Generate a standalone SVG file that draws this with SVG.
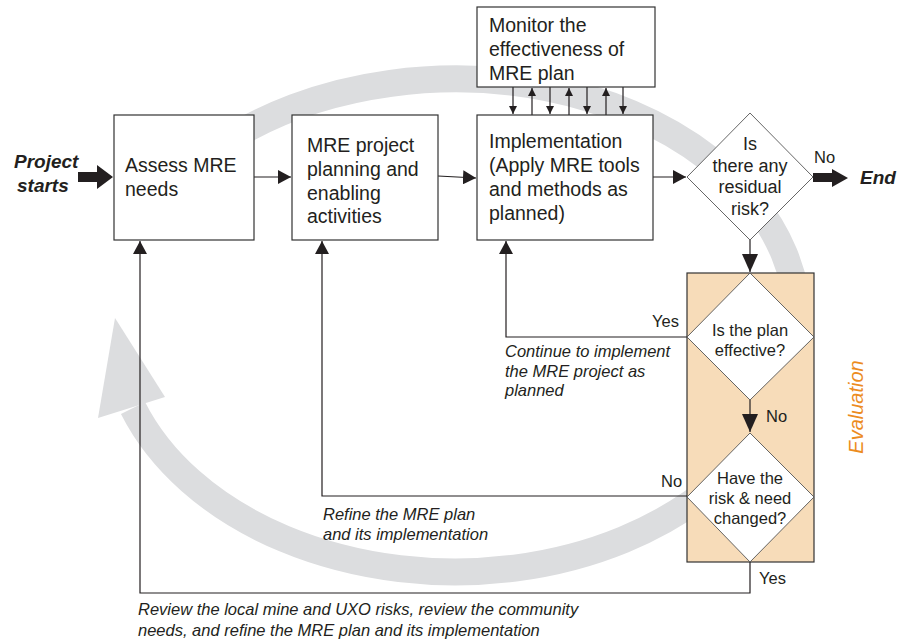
<svg xmlns="http://www.w3.org/2000/svg" width="900" height="644" viewBox="0 0 900 644">
<defs>
<style>
.box{fill:#fff;stroke:#333;stroke-width:1.2}
.dia{fill:#fff;stroke:#555;stroke-width:0.9}
.t{font-family:"Liberation Sans",Arial,sans-serif;font-size:19.5px;fill:#231f20}
.td{font-family:"Liberation Sans",Arial,sans-serif;font-size:16.5px;fill:#231f20;text-anchor:middle}
.tl{font-family:"Liberation Sans",Arial,sans-serif;font-size:16.5px;fill:#231f20}
.ti{font-family:"Liberation Sans",Arial,sans-serif;font-size:16.5px;font-style:italic;fill:#231f20}
.tb{font-family:"Liberation Sans",Arial,sans-serif;font-size:19px;font-style:italic;font-weight:bold;fill:#231f20}
.ln{fill:none;stroke:#231f20;stroke-width:1.2}
.thick{fill:#231f20}
</style>
<marker id="ah" markerUnits="userSpaceOnUse" markerWidth="14" markerHeight="14" refX="13" refY="7" orient="auto" viewBox="0 0 14 14"><path d="M0,0 L13,7 L0,14 z" fill="#231f20"/></marker>
<marker id="as" markerUnits="userSpaceOnUse" markerWidth="9" markerHeight="9" refX="8" refY="4" orient="auto" viewBox="0 0 9 9"><path d="M0,0 L8,4 L0,8 z" fill="#231f20"/></marker>
<marker id="ab" markerUnits="userSpaceOnUse" markerWidth="19" markerHeight="17" refX="18" refY="8" orient="auto" viewBox="0 0 19 17"><path d="M0,0 L18,8 L0,16 z" fill="#231f20"/></marker>
</defs>
<rect width="900" height="644" fill="#fff"/>

<g id="cycle-band">
<path d="M215,148.4 A343,243 0 0 1 798,322 A343,250 0 0 1 133,408" fill="none" stroke="#dcdddf" stroke-width="27"/>
<polygon points="115,318 165,397 98,418" fill="#dcdddf"/>
</g>

<g id="evaluation">
<rect x="687" y="273" width="127" height="289" fill="#f7dcb9" stroke="#333" stroke-width="1.2"/>
<text x="863" y="407" transform="rotate(-90 863 407)" text-anchor="middle" style="font-family:'Liberation Sans',Arial,sans-serif;font-size:20px;font-style:italic;fill:#ec8c1e">Evaluation</text>
</g>

<g id="connectors">
<path class="ln" d="M254,177 H291" marker-end="url(#ah)"/>
<path class="ln" d="M438,176 L476,178" marker-end="url(#ah)"/>
<path class="ln" d="M653,177 H686" marker-end="url(#ah)"/>
<path class="ln" d="M750,240 V272" marker-end="url(#ab)"/>
<path class="ln" d="M750,400 V432" marker-end="url(#ab)"/>
<path class="ln" d="M687,337 H506 V241" marker-end="url(#ah)"/>
<path class="ln" d="M687,496 H322 V241" marker-end="url(#ah)"/>
<path class="ln" d="M750,562 V593 H140 V241" marker-end="url(#ah)"/>
<path class="ln" d="M513,87 V114" marker-end="url(#as)"/>
<path class="ln" d="M532,115 V88" marker-end="url(#as)"/>
<path class="ln" d="M550,87 V114" marker-end="url(#as)"/>
<path class="ln" d="M569,115 V88" marker-end="url(#as)"/>
<path class="ln" d="M587,87 V114" marker-end="url(#as)"/>
<path class="ln" d="M606,115 V88" marker-end="url(#as)"/>
<path class="ln" d="M623,87 V114" marker-end="url(#as)"/>
<polygon class="thick" points="78,172 97,172 97,165 113,177 97,189 97,182 78,182"/>
<polygon class="thick" points="813,173 832,173 832,169 848,178 832,187 832,182 813,182"/>
</g>

<g id="start">
<text class="tb" x="14" y="168">Project</text>
<text class="tb" x="17" y="192">starts</text>
</g>

<g id="assess">
<rect class="box" x="114" y="115" width="140" height="125"/>
<text class="t" x="125" y="172">Assess MRE</text>
<text class="t" x="125" y="196">needs</text>
</g>

<g id="planning">
<rect class="box" x="292" y="115" width="146" height="125"/>
<text class="t" x="307" y="152">MRE project</text>
<text class="t" x="307" y="176">planning and</text>
<text class="t" x="307" y="200">enabling</text>
<text class="t" x="307" y="223">activities</text>
</g>

<g id="implementation">
<rect class="box" x="477" y="115" width="176" height="125"/>
<text class="t" x="489" y="148">Implementation</text>
<text class="t" x="489" y="172">(Apply MRE tools</text>
<text class="t" x="489" y="196">and methods as</text>
<text class="t" x="489" y="220">planned)</text>
</g>

<g id="monitor">
<rect class="box" x="477" y="7" width="178" height="80"/>
<text class="t" x="489" y="32">Monitor the</text>
<text class="t" x="489" y="56">effectiveness of</text>
<text class="t" x="489" y="80">MRE plan</text>
</g>

<g id="residual">
<polygon class="dia" points="750,113 813,177 750,240 687,177"/>
<text class="td" style="font-size:18px" x="750" y="150">Is</text>
<text class="td" style="font-size:18px" x="750" y="172">there any</text>
<text class="td" style="font-size:18px" x="750" y="193">residual</text>
<text class="td" style="font-size:18px" x="750" y="215">risk?</text>
<text class="tl" x="814" y="163">No</text>
</g>

<g id="end">
<text class="tb" x="860" y="184">End</text>
</g>

<g id="effective">
<polygon class="dia" points="750,273 814,337 750,400 687,337"/>
<text class="td" x="750" y="336">Is the plan</text>
<text class="td" x="750" y="356">effective?</text>
<text class="tl" x="652" y="327">Yes</text>
<text class="tl" x="766" y="422">No</text>
</g>

<g id="changed">
<polygon class="dia" points="750,433 814,497 750,562 687,497"/>
<text class="td" x="750" y="484">Have the</text>
<text class="td" x="750" y="504">risk &amp; need</text>
<text class="td" x="750" y="524">changed?</text>
<text class="tl" x="661" y="487">No</text>
<text class="tl" x="759" y="584">Yes</text>
</g>

<g id="notes">
<text class="ti" x="505" y="357">Continue to implement</text>
<text class="ti" x="505" y="377">the MRE project as</text>
<text class="ti" x="505" y="396">planned</text>
<text class="ti" x="323" y="520">Refine the MRE plan</text>
<text class="ti" x="323" y="540">and its implementation</text>
<text class="ti" x="138" y="615">Review the local mine and UXO risks, review the community</text>
<text class="ti" x="138" y="636">needs, and refine the MRE plan and its implementation</text>
</g>
</svg>
